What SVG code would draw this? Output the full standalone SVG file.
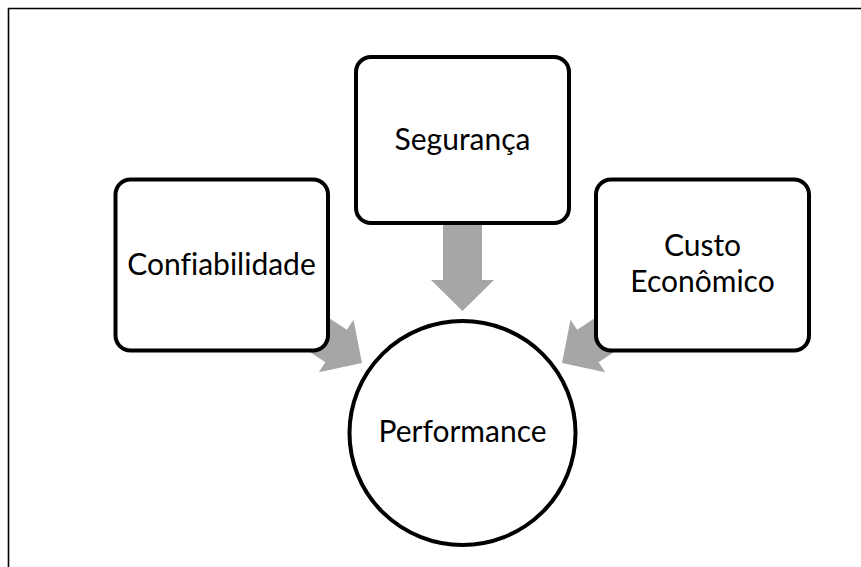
<svg xmlns="http://www.w3.org/2000/svg" width="861" height="567" viewBox="0 0 861 567">
  <style>
    .frame { fill: none; stroke: #000; stroke-width: 1.6; }
    .box { fill: #fff; stroke: #000; stroke-width: 4; }
    .arrow { fill: #a6a6a6; stroke: none; }
    .label { font-family: Lato, "Open Sans", "Liberation Sans", sans-serif; font-size: 30px; font-variant-ligatures: none; fill: #000; text-anchor: middle; }
  </style>
  <defs>
    <!-- block arrow pointing down, tip at the origin -->
    <polygon id="block-arrow" points="-19.5,-90 19.5,-90 19.5,-31 31.5,-31 0,0 -31.5,-31 -19.5,-31"/>
  </defs>

  <rect width="861" height="567" fill="#fff"/>
  <!-- outer frame (open on the right and bottom) -->
  <path class="frame" d="M8.5,567 V8.5 H861"/>

  <g id="connectors">
    <use href="#block-arrow" class="arrow" transform="translate(462.5,311)"/>
    <use href="#block-arrow" class="arrow" transform="translate(362,363) rotate(-56.6)"/>
    <use href="#block-arrow" class="arrow" transform="translate(562,363) rotate(56.6)"/>
  </g>

  <g id="seguranca">
    <rect class="box" x="356" y="57" width="213" height="166" rx="15"/>
    <text class="label" x="462.5" y="150">Segurança</text>
  </g>

  <g id="confiabilidade">
    <rect class="box" x="115.5" y="179.5" width="212.5" height="171" rx="15"/>
    <text class="label" x="221.5" y="275">Confiabilidade</text>
  </g>

  <g id="custo-economico">
    <rect class="box" x="596" y="179.5" width="213" height="171" rx="15"/>
    <text class="label" x="702.5" y="256">Custo</text>
    <text class="label" x="702.5" y="292">Econômico</text>
  </g>

  <g id="performance">
    <ellipse class="box" cx="462.5" cy="433" rx="113" ry="112"/>
    <text class="label" x="462.5" y="442">Performance</text>
  </g>
</svg>
